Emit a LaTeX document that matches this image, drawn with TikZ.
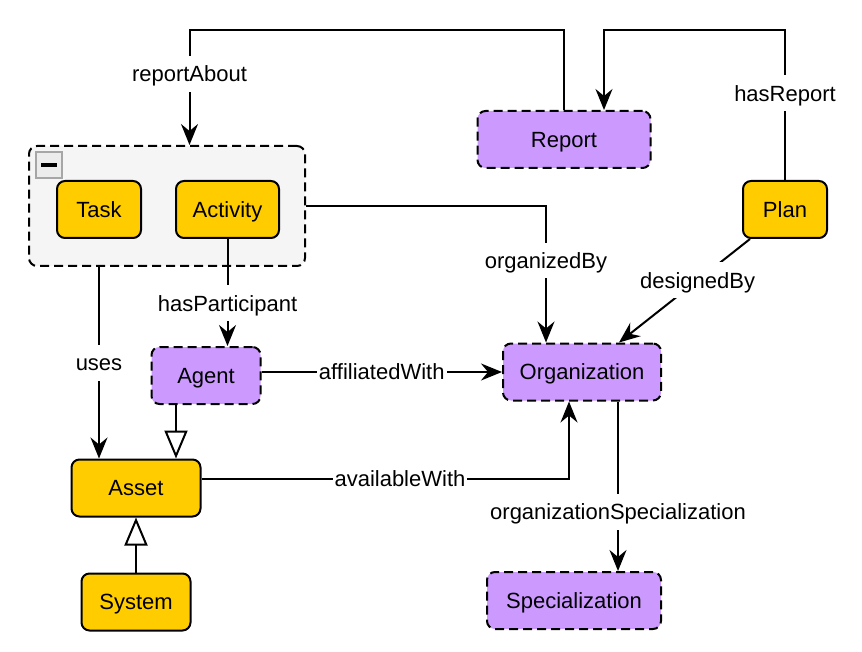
\documentclass[tikz,border=0pt]{standalone}
\usepackage{fontspec}
\setmainfont{Liberation Sans}
\usetikzlibrary{positioning, arrows.meta}
\definecolor{coreYellow}{HTML}{FFCC00}
\definecolor{extPurple}{HTML}{CC99FF}
\definecolor{groupGrey}{HTML}{F5F5F5}

\begin{document}
\begin{tikzpicture}[x=0.5pt, y=-0.5pt, font=\fontsize{11}{13}\selectfont,
    cls/.style={draw=black, line width=1pt, rounded corners=4pt, minimum height=28.5pt, inner sep=0pt,
      text height=7.9pt, text depth=0pt},
    core/.style={cls, fill=coreYellow},
    ext/.style={cls, fill=extPurple, dash pattern=on 4.5pt off 2.5pt},
    rel/.style={line width=1pt, -{Stealth[length=10.5pt, width=8.5pt, inset=3.5pt]}},
    isa/.style={line width=1pt, -{Triangle[open, fill=white, length=14pt, width=11.5pt]}},
    lbl/.style={fill=white, inner xsep=1pt, inner ysep=5pt, text height=7.9pt, text depth=0pt}]
    \useasboundingbox (0,0) rectangle (862,652);

    \node[cls, fill=groupGrey, dash pattern=on 4.5pt off 2.5pt, minimum width=138pt, minimum height=60pt] (grp) at (167,206) {};
    \node[draw=gray!70, fill=gray!15, line width=0.75pt, minimum size=13pt, inner sep=0pt] (fold) at (49,165) {};
    \draw[line width=2pt] ([xshift=-4pt]fold.center) -- ([xshift=4pt]fold.center);

    \node[core, minimum width=42pt] (task) at (99,209.5) {Task};
    \node[core, minimum width=51.5pt, right=16.5pt of task] (activity) {Activity};
    \node[ext, minimum width=86.5pt] (report) at (564,139.5) {Report};
    \node[core, minimum width=42pt] (plan) at (785,209.5) {Plan};
    \node[ext, minimum width=79pt] (org) at (582,372) {Organization};
    \node[ext, minimum width=54.5pt] (agent) at (206,375.5) {Agent};
    \node[core, minimum width=64.5pt] (asset) at (136,488) {Asset};
    \node[core, minimum width=54.5pt, below=27.5pt of asset] (system) {System};
    \node[ext, minimum width=87pt] (spec) at (574,600.5) {Specialization};

    \draw[rel] (report.north) -- ++(0,-79.5) -| node[lbl, pos=0.69] (lblReportAbout) {reportAbout} ([xshift=11.25pt]grp.north);
    \draw[rel] (plan.north) -- node[lbl, pos=0.58] (lblHasReport) {hasReport} ++(0,-149.5) -| ([xshift=20pt]report.north);
    \draw[rel] (grp.east) -| node[lbl, pos=0.7] (lblOrganizedBy) {organizedBy} ([xshift=-18pt]org.north);
    \draw[rel] ([xshift=-17.5pt]plan.south) -- node[lbl, pos=0.4] (lblDesignedBy) {designedBy} ([xshift=18.5pt]org.north);
    \draw[rel] (activity.south) -- node[lbl, pos=0.6] (lblHasParticipant) {hasParticipant} (activity.south |- agent.north);
    \draw[rel] (grp.south -| task) -- node[lbl] (lblUses) {uses} (asset.north -| task);
    \draw[rel] (agent.east |- org.west) -- node[lbl] (lblAffiliatedWith) {affiliatedWith} (org.west);
    \draw[rel] ([yshift=4.5pt]asset.east) -| node[lbl, pos=0.27] (lblAvailableWith) {availableWith} ([xshift=-6.5pt]org.south);
    \draw[rel] ([xshift=18pt]org.south) -- node[lbl, pos=0.65] (lblOrgSpec) {organizationSpecialization} ([xshift=18pt]org.south |- spec.north);

    \draw[isa] ([xshift=-15pt]agent.south) -- ([xshift=-15pt]agent.south |- asset.north);
    \draw[isa] (system.north) -- (asset.south);
\end{tikzpicture}
\end{document}
